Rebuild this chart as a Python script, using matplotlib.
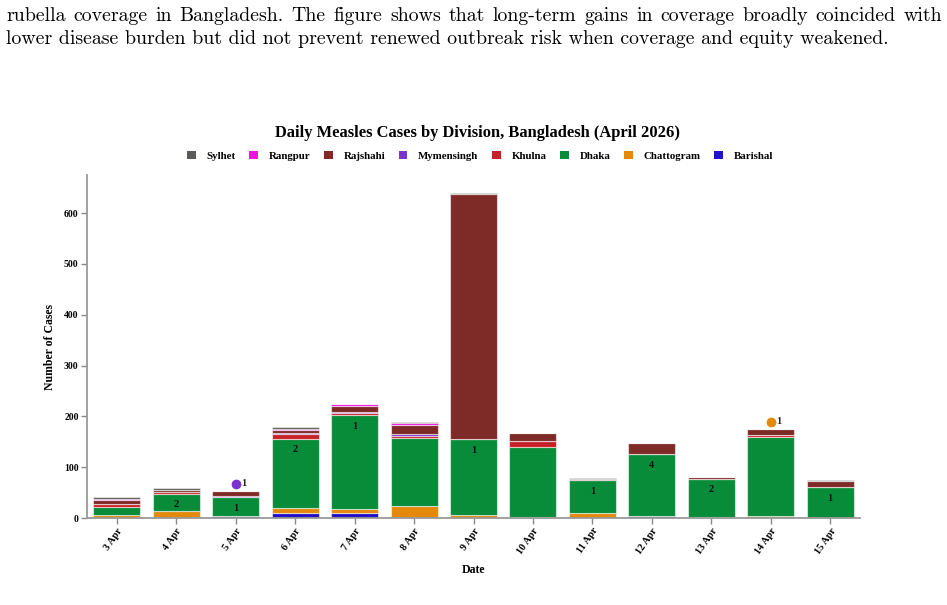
import matplotlib
matplotlib.use("Agg")
import matplotlib.pyplot as plt
from matplotlib.patches import Patch
import matplotlib.transforms as mtransforms
import numpy as np

# ---------------- data ----------------
dates = ['3 Apr', '4 Apr', '5 Apr', '6 Apr', '7 Apr', '8 Apr', '9 Apr',
         '10 Apr', '11 Apr', '12 Apr', '13 Apr', '14 Apr', '15 Apr']
divisions = ['Barishal', 'Chattogram', 'Dhaka', 'Khulna', 'Mymensingh',
             'Rajshahi', 'Rangpur', 'Sylhet']
barishal   = [0, 0, 3, 9, 9, 0, 0, 0, 0, 3, 0, 0, 0]
chattogram = [5, 14, 1, 10, 9, 24, 6, 1, 9, 1, 2, 3, 0]
dhaka      = [17, 34, 37, 137, 184, 134, 149, 139, 66, 122, 75, 156, 61]
khulna     = [5, 3, 1, 10, 4, 3, 0, 11, 0, 0, 0, 4, 0]
mymensingh = [1, 1, 2, 2, 2, 4, 0, 0, 0, 0, 0, 0, 0]
rajshahi   = [7, 3, 9, 5, 12, 18, 482, 16, 2, 22, 4, 12, 12]
rangpur    = [2, 1, 0, 3, 4, 4, 0, 0, 0, 0, 0, 0, 0]
sylhet     = [4, 3, 0, 4, 0, 1, 3, 0, 1, 0, 0, 0, 2]

# labels drawn inside the Dhaka segment
dhaka_labels = ['', '2', '1', '2', '1', '', '1', '', '1', '4', '2', '', '1']
# marker annotations above bars
dot_dates = ['5 Apr', '14 Apr']
dot_divisions = ['Mymensingh', 'Chattogram']
dot_labels = ['1', '1']

colors = {
    'Barishal': '#2112c9',
    'Chattogram': '#e5890a',
    'Dhaka': '#088c3a',
    'Khulna': '#c82228',
    'Mymensingh': '#7b33cf',
    'Rajshahi': '#7e2b28',
    'Rangpur': '#ec16dc',
    'Sylhet': '#5a5a56',
}

series = {
    'Barishal': barishal, 'Chattogram': chattogram, 'Dhaka': dhaka,
    'Khulna': khulna, 'Mymensingh': mymensingh, 'Rajshahi': rajshahi,
    'Rangpur': rangpur, 'Sylhet': sylhet,
}

serif = ['Liberation Serif', 'DejaVu Serif']

W, H = 947, 605
fig = plt.figure(figsize=(W / 100, H / 100), dpi=100)
ax = fig.add_axes([87 / W, 87 / H, (860 - 87) / W, (518 - 175) / H])

x = np.arange(len(dates))
bottom = np.zeros(len(dates))
tops = {}
for d in divisions:
    vals = np.array(series[d], dtype=float)
    ax.bar(x, vals, width=0.79, bottom=bottom, color=colors[d],
           edgecolor=(1, 1, 1, 0.55), linewidth=0.8, zorder=2)
    bottom = bottom + vals
    tops[d] = bottom.copy()
total = bottom

# labels inside the Dhaka segment
for i, lab in enumerate(dhaka_labels):
    if lab:
        ax.annotate(lab, (x[i], tops['Dhaka'][i]), xytext=(0, -8),
                    textcoords='offset points', ha='center', va='center',
                    fontsize=7.5, fontweight='bold', family=serif,
                    color='#111111', zorder=4)

# dot annotations above bars
shift = mtransforms.ScaledTranslation(0, 5 / 72, fig.dpi_scale_trans)
for dd, dv, lab in zip(dot_dates, dot_divisions, dot_labels):
    i = dates.index(dd)
    ax.plot([x[i]], [total[i]], linestyle='none', marker='o', markersize=6,
            color=colors[dv], zorder=5, transform=ax.transData + shift)
    ax.annotate(lab, (x[i], total[i]), xytext=(6, 5.5), textcoords='offset points',
                ha='center', va='center', fontsize=7.5, fontweight='bold',
                family=serif, color='#222222', zorder=5)

ax.set_xlim(-0.5, len(dates) - 0.5)
ax.set_ylim(0, 675)
ax.set_yticks([0, 100, 200, 300, 400, 500, 600])
ax.set_xticks(x)
ax.set_xticklabels(dates, rotation=55, ha='right', rotation_mode='anchor',
                   fontsize=7.3, fontweight='bold', family=serif)
for lbl in ax.get_yticklabels():
    lbl.set_fontsize(7)
    lbl.set_fontweight('bold')
    lbl.set_family(serif)

for s in ['top', 'right']:
    ax.spines[s].set_visible(False)
for s in ['left', 'bottom']:
    ax.spines[s].set_color('#999999')
    ax.spines[s].set_linewidth(1.3)
ax.tick_params(axis='both', colors='#888888', labelcolor='black', length=4,
               width=1, pad=2)

ax.set_ylabel('Number of Cases', fontsize=8.5, fontweight='bold', family=serif,
              labelpad=6)
ax.set_xlabel('Date', fontsize=8.5, fontweight='bold', family=serif, labelpad=6)

# title
fig.text(477 / W, 1 - 133 / H, 'Daily Measles Cases by Division, Bangladesh (April 2026)',
         ha='center', va='center', fontsize=11.9, fontweight='bold', family=serif)

# legend (reverse order, Sylhet first)
leg_order = divisions[::-1]
handles = [Patch(facecolor=colors[d], edgecolor='none', label=d) for d in leg_order]
fig.legend(handles=handles, loc='center', bbox_to_anchor=(480 / W, 1 - 156 / H),
           ncol=8, frameon=False, handlelength=0.8, handleheight=0.8,
           handletextpad=1.0, columnspacing=1.25,
           prop={'family': serif, 'weight': 'bold', 'size': 7.8})

# header paragraph text (justified first line)
line1 = 'rubella coverage in Bangladesh.  The figure shows that long-term gains in coverage broadly coincided with'
line2 = 'lower disease burden but did not prevent renewed outbreak risk when coverage and equity weakened.'
hdr_font = dict(fontsize=14.3, family=['cmr10', 'DejaVu Serif'])
renderer = fig.canvas.get_renderer()
words = line1.replace('  ', ' ').split(' ')
x_left, x_right = 6, 942
y1 = 1 - 16 / H
tmp = [fig.text(0, y1, w, va='center', ha='left', **hdr_font) for w in words]
widths = [t.get_window_extent(renderer).width for t in tmp]
gap = (x_right - x_left - sum(widths)) / (len(words) - 1)
cur = x_left
for t, w in zip(tmp, widths):
    t.set_x(cur / W)
    cur += w + gap
fig.text(x_left / W, 1 - 39 / H, line2, va='center', ha='left', **hdr_font)

fig.savefig('out.png', dpi=100)
